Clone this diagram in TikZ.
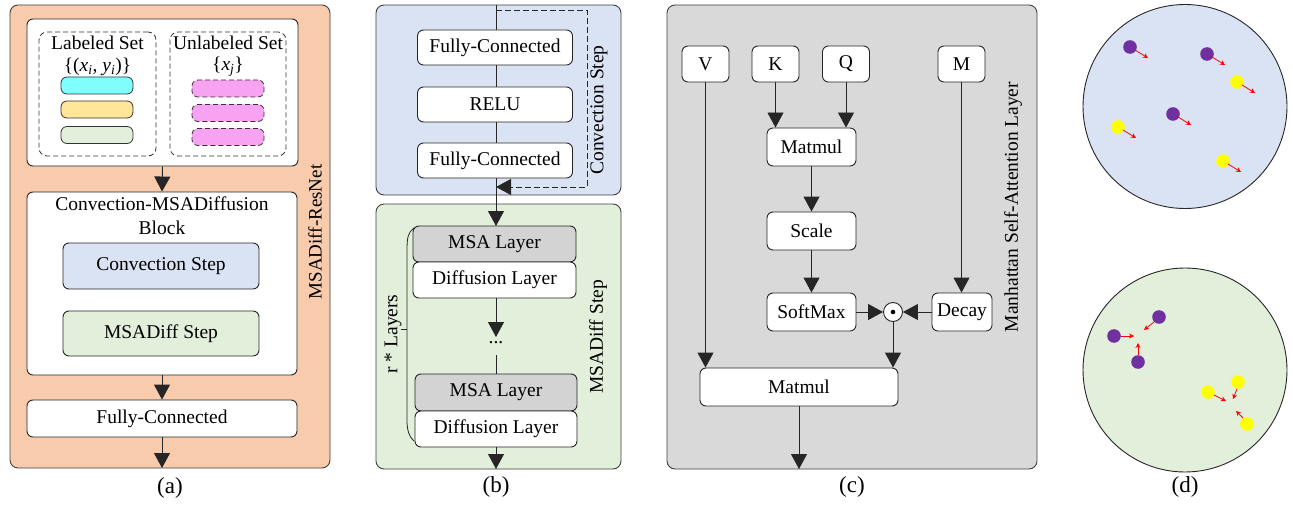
\documentclass[tikz,border=0pt]{standalone}
\usepackage{fontspec}
\setmainfont{Liberation Serif}
\usetikzlibrary{arrows.meta}
\definecolor{orangeP}{HTML}{F8CBAD}
\definecolor{blueP}{HTML}{DAE3F3}
\definecolor{greenP}{HTML}{E2EFDA}
\definecolor{grayP}{HTML}{D9D9D9}
\definecolor{msaG}{HTML}{D3D3D3}
\definecolor{cyanB}{HTML}{80FFFF}
\definecolor{yelB}{HTML}{FFE699}
\definecolor{grnB}{HTML}{E2EFDA}
\definecolor{pinkB}{HTML}{F8A3F2}
\definecolor{purpD}{HTML}{7030A0}
\definecolor{yelD}{HTML}{FFFF00}
\tikzset{
  fnt/.style={font=\fontsize{19.5}{23}\selectfont},
  panel/.style={draw=black!75, line width=0.9pt, rounded corners=8pt, inner sep=0pt},
  wbox/.style={draw=black!85, line width=0.9pt, rounded corners=6pt, fill=white, inner sep=0pt, fnt},
  bar/.style={draw=black!80, line width=0.8pt, rounded corners=6pt, inner sep=0pt, minimum width=72pt, minimum height=17pt},
  dashpat/.style={dash pattern=on 5pt off 3pt},
  dbox/.style={draw=black!80, dashpat, line width=0.8pt, rounded corners=8pt, inner sep=0pt},
  lbl/.style={inner sep=0pt, fnt},
  captxt/.style={inner sep=0pt, font=\fontsize{23}{26}\selectfont},
  arr/.style={draw=black!85, line width=0.9pt, -{Triangle[length=15pt,width=16pt]}},
  ln/.style={draw=black!85, line width=0.9pt},
  rarr/.style={draw=red, line width=0.8pt, -{Stealth[length=5pt,width=5pt]}},
}
\begin{document}
\begin{tikzpicture}[x=1pt,y=-1pt]
\useasboundingbox (0,0) rectangle (1293,508);

% ---------------- panel (a) ----------------
\node[panel, fill=orangeP, minimum width=320pt, minimum height=463pt] (pa) at (170,236.5) {};
\node[wbox, minimum width=271pt, minimum height=147pt] (top) at (162.5,92.5) {};
\node[dbox, minimum width=117pt, minimum height=124pt] (lset) at (97.5,94) {};
\node[dbox, minimum width=116pt, minimum height=124pt] (uset) at (228,94) {};
\node[lbl] (lsett) at (97.5,43) {Labeled Set};
\node[lbl] (lsetm) at (97.5,67) {\{(\textit{x}\textsubscript{\textit{i}}, \textit{y}\textsubscript{\textit{i}})\}};
\node[lbl] (usett) at (228,43) {Unlabeled Set};
\node[lbl] (usetm) at (228,67) {\{\textit{x}\textsubscript{\textit{j}}\}};
\node[bar, fill=cyanB] (b1) at (97,85.5) {};
\node[bar, fill=yelB] (b2) at (97,109.5) {};
\node[bar, fill=grnB] (b3) at (97,135) {};
\node[bar, fill=pinkB, dashpat] (p1) at (228,88.5) {};
\node[bar, fill=pinkB, dashpat] (p2) at (228,113) {};
\node[bar, fill=pinkB, dashpat] (p3) at (228,137) {};
\node[wbox, minimum width=270pt, minimum height=183pt] (blk) at (162,283.5) {};
\node[lbl, align=center] (blkt) at (162,216) {Convection-MSADiffusion\\[1pt]Block};
\node[wbox, fill=blueP, minimum width=196pt, minimum height=46pt] (cs) at (161,266) {Convection Step};
\node[wbox, fill=greenP, minimum width=196pt, minimum height=45pt] (ms) at (161,333.5) {MSADiff Step};
\node[wbox, minimum width=270pt, minimum height=37pt] (fca) at (162,418.5) {Fully-Connected};
\coordinate (aout) at (162,468);
\draw[arr] (top.south) -- (blk.north);
\draw[arr] (blk.south) -- (fca.north);
\draw[arr] (fca.south) -- (aout);
\node[lbl, rotate=90, font=\fontsize{19}{22}\selectfont] (la) at (315,232) {MSADiff-ResNet};
\node[captxt] (ca) at (170,488) {(a)};

% ---------------- panel (b) ----------------
\node[panel, fill=blueP, minimum width=245pt, minimum height=190pt] (pb1) at (498.5,100) {};
\node[panel, fill=greenP, minimum width=245pt, minimum height=265pt] (pb2) at (498.5,336.5) {};
\coordinate (btop) at (496,5);
\coordinate (d1) at (496,10);
\coordinate (d2) at (587,10);
\coordinate (d3) at (587,187);
\coordinate (d4) at (496,187);
\coordinate (bout) at (496,469);
\draw[ln] (btop) -- (496,160);
\draw[arr] (496,178) -- (496,226);
\draw[draw=black!85, line width=0.9pt, dash pattern=on 6pt off 3pt] (d1) -- (d2) -- (d3) -- (505,187);
\draw[draw=black!85, line width=0.9pt, -{Triangle[length=15pt,width=16pt]}] (512,187) -- (d4);
\node[wbox, minimum width=155pt, minimum height=35pt] (fc1) at (495,47.5) {Fully-Connected};
\node[wbox, minimum width=155pt, minimum height=35pt] (relu) at (495,104.5) {RELU};
\node[wbox, minimum width=155pt, minimum height=35pt] (fc2) at (495,160.5) {Fully-Connected};
\node[lbl, rotate=90] (lcs) at (599,110) {Convection Step};
\node[wbox, fill=msaG, minimum width=163pt, minimum height=36pt] (msa1) at (494.5,244) {MSA Layer};
\node[wbox, minimum width=163pt, minimum height=36pt] (dif1) at (494.5,280) {Diffusion Layer};
\node[lbl] (dots) at (496,343) {...};
\node[wbox, fill=msaG, minimum width=162pt, minimum height=37pt] (msa2) at (496,392.5) {MSA Layer};
\node[wbox, minimum width=162pt, minimum height=36pt] (dif2) at (496,429) {Diffusion Layer};
\draw[arr] (496,298) -- (496,337);
\draw[ln] (496,355) -- (msa2.north);
\draw[arr] (dif2.south) -- (bout);
\coordinate (br1) at (414,228);
\coordinate (br2) at (414,441);
\coordinate (brt) at (401,329);
\draw[ln, line width=0.8pt] (br1) .. controls (408,232) and (407,238) .. (407,250) -- (407,420) .. controls (407,430) and (409,437) .. (br2);
\draw[ln, line width=0.8pt] (407,329) -- (brt);
\node[lbl, rotate=90] (rl) at (393,334) {r * Layers};
\node[lbl, rotate=90] (lms) at (598,337) {MSADiff Step};
\node[captxt] (cb) at (496,487) {(b)};

% ---------------- panel (c) ----------------
\node[panel, fill=grayP, minimum width=370pt, minimum height=464pt] (pc) at (852,237) {};
\node[wbox, minimum width=47pt, minimum height=36pt] (V) at (705.5,64) {V};
\node[wbox, minimum width=47pt, minimum height=36pt] (K) at (775.5,64) {K};
\node[wbox, minimum width=47pt, minimum height=36pt] (Q) at (846,64) {Q};
\node[wbox, minimum width=47pt, minimum height=36pt] (M) at (961.5,64) {M};
\node[wbox, minimum width=89pt, minimum height=38pt] (m1) at (811.5,147) {Matmul};
\node[wbox, minimum width=89pt, minimum height=38pt] (sc) at (811.5,231) {Scale};
\node[wbox, minimum width=89pt, minimum height=38pt] (sm) at (811.5,312) {SoftMax};
\node[wbox, minimum width=60pt, minimum height=38pt] (dec) at (962,312) {Decay};
\node[draw=black!85, line width=0.9pt, fill=white, circle, minimum size=19pt, inner sep=0pt] (od) at (893,312) {};
\fill[black] (od.center) circle (2.3pt);
\node[wbox, minimum width=198pt, minimum height=38pt] (m2) at (799,387) {Matmul};
\coordinate (cout) at (799,469);
\draw[arr] (K.south) -- (K.south |- m1.north);
\draw[arr] (Q.south) -- (Q.south |- m1.north);
\draw[arr] (m1.south) -- (sc.north);
\draw[arr] (sc.south) -- (sm.north);
\draw[arr] (M.south) -- (M.south |- dec.north);
\draw[arr] (sm.east) -- (od.west);
\draw[arr] (dec.west) -- (od.east);
\draw[arr] (V.south) -- (V.south |- m2.north);
\draw[arr] (od.south) -- (od.south |- m2.north);
\draw[arr] (m2.south) -- (cout);
\node[lbl, rotate=90] (lc) at (1013,207) {Manhattan Self-Attention Layer};
\node[captxt] (cc) at (852,487) {(c)};

% ---------------- panel (d) ----------------
\draw[black!85, line width=0.9pt, fill=blueP] (1185,106.5) circle (102);
\draw[black!85, line width=0.9pt, fill=greenP] (1185,370) circle (102);
% upper circle
\foreach \x/\y in {1130/47, 1207/54, 1173/114} {\fill[purpD] (\x,\y) circle (6.8);}
\foreach \x/\y in {1237/82, 1118/127, 1223/161} {\fill[yelD] (\x,\y) circle (6.8);}
\foreach \x/\y in {1130/47, 1207/54, 1173/114, 1237/82, 1118/127, 1223/161} {\draw[rarr] (\x+5,\y+3) -- (\x+18,\y+11);}
% lower circle
\foreach \x/\y in {1114/336, 1159/317, 1138/362} {\fill[purpD] (\x,\y) circle (6.8);}
\foreach \x/\y in {1208/392, 1238/382, 1247/424} {\fill[yelD] (\x,\y) circle (6.8);}
\draw[rarr] (1121,336) -- (1134,336);
\draw[rarr] (1154,322) -- (1144,330);
\draw[rarr] (1138,355) -- (1138,343);
\draw[rarr] (1214,395) -- (1226,401);
\draw[rarr] (1237,389) -- (1233,399);
\draw[rarr] (1243,418) -- (1236,411);
\node[captxt] (cd) at (1185,487) {(d)};
\end{tikzpicture}
\end{document}
